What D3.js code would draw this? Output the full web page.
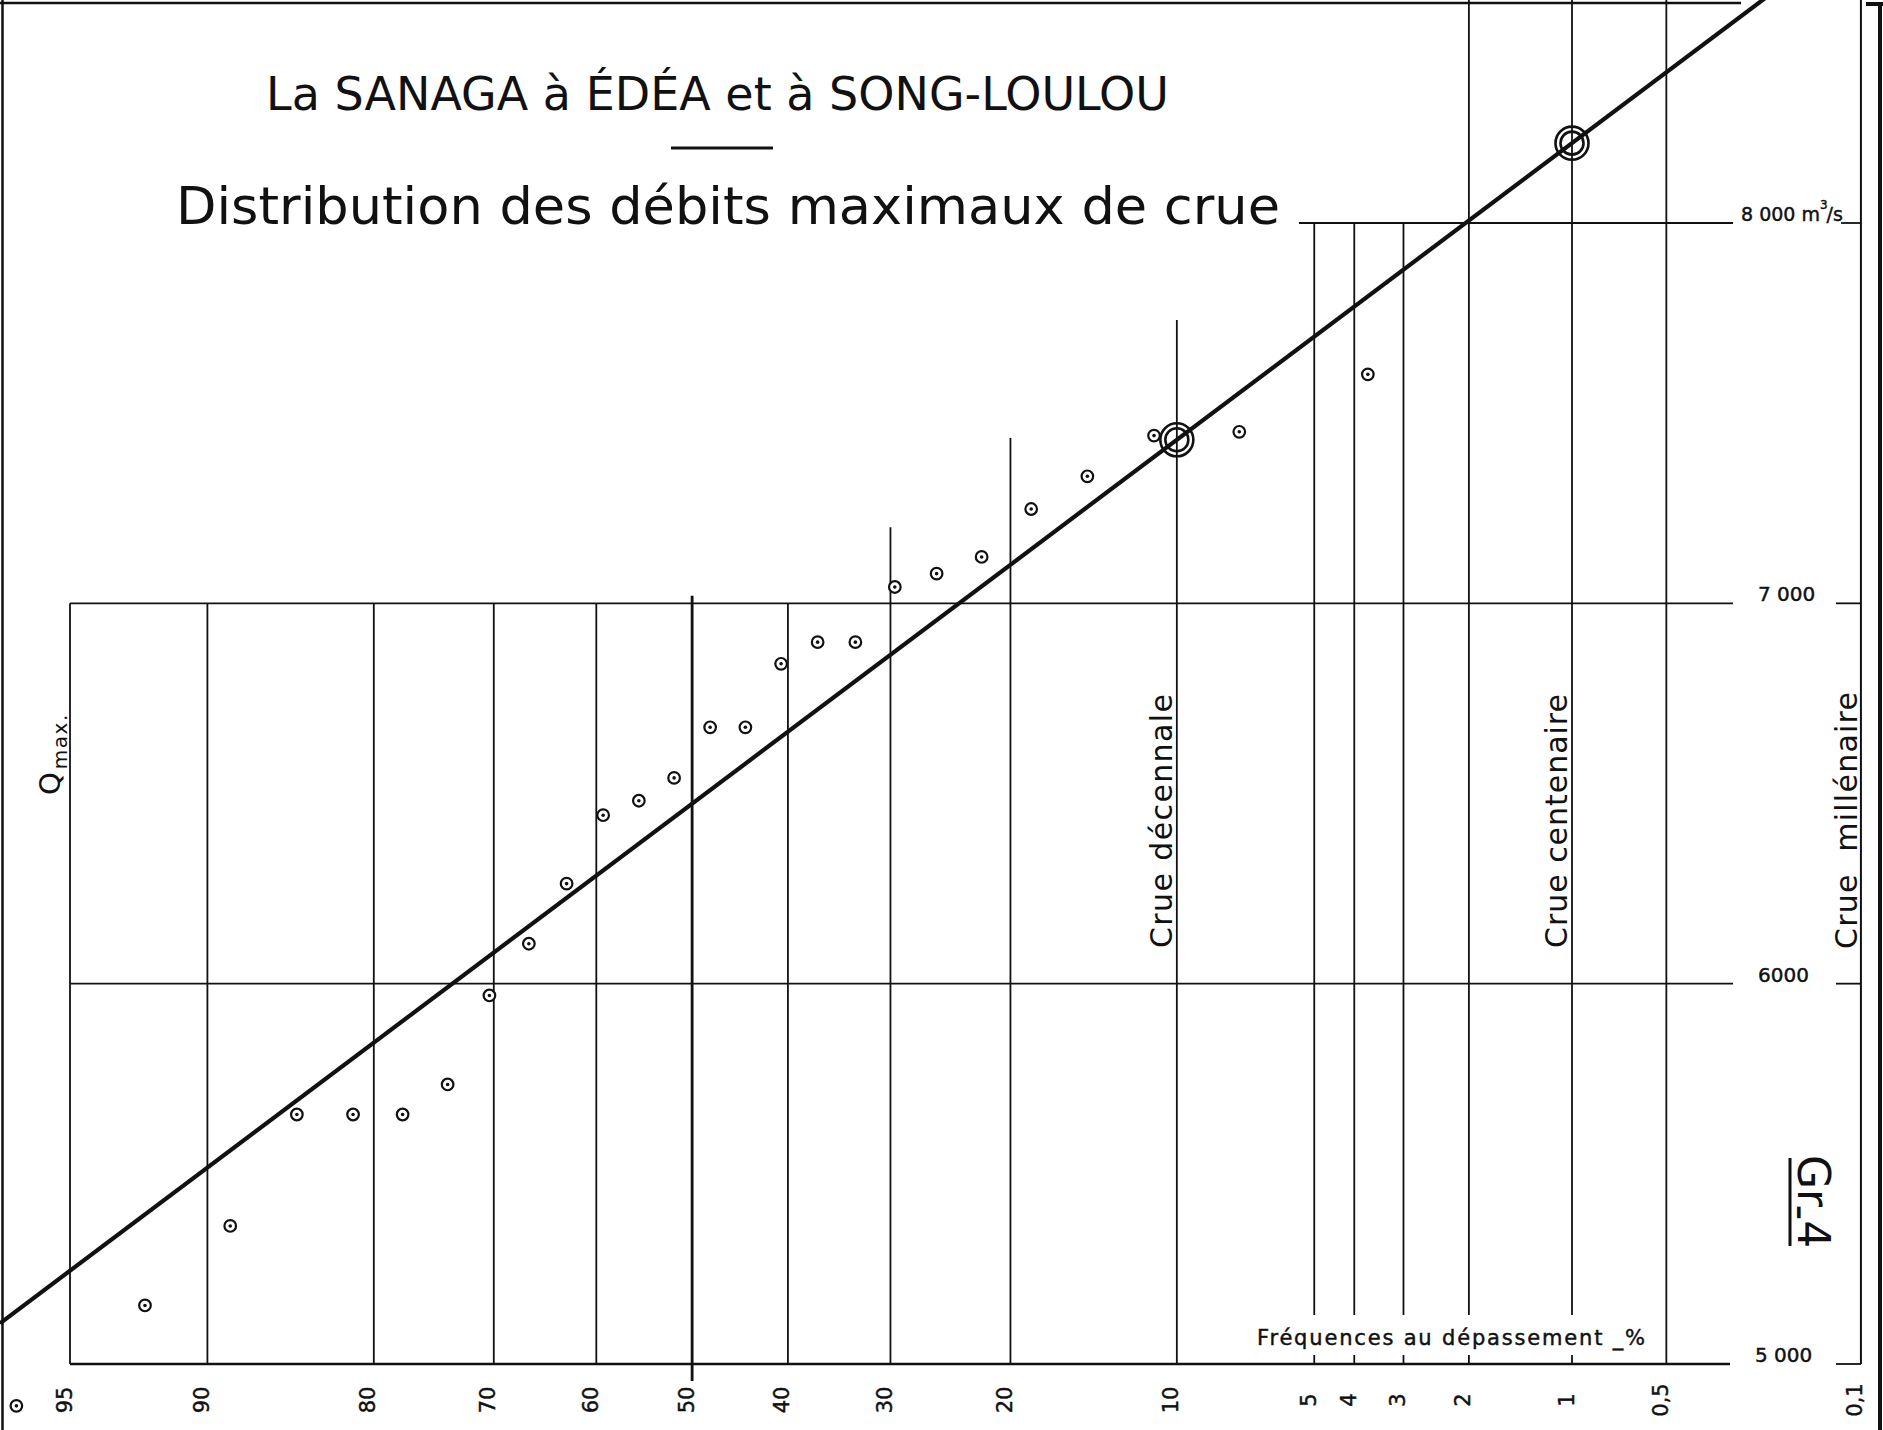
<!DOCTYPE html>
<html>
<head>
<meta charset="utf-8">
<title>La Sanaga à Édéa et à Song-Loulou</title>
<script src="https://cdn.jsdelivr.net/npm/d3@7"></script>
<style>
  html, body { margin: 0; padding: 0; background: #fff; }
  svg { display: block; }
  text { font-family: "DejaVu Sans", "Noto Sans", sans-serif; fill: #111; }
  .lettering { stroke: #111; stroke-width: 0.45px; }
  .keep-space { white-space: pre; }
</style>
</head>
<body>
<svg id="chart" width="1883" height="1430"></svg>
<script>
// ---- Data -----------------------------------------------------------------
// Annual maximum discharges (m3/s), ranked, with their exceedance frequency (%)
const exceedanceFreq = [3.7, 7.4, 11.1, 14.8, 18.5, 22.2, 25.9, 29.6, 33.3, 37.0,
                        40.7, 44.4, 48.1, 51.9, 55.6, 59.3, 63.0, 66.7, 70.4, 74.1,
                        77.8, 81.5, 85.2, 88.9, 92.6, 96.3];
const peakFlow = [7602, 7451, 7441, 7334, 7248, 7122, 7078, 7043, 6898, 6898,
                  6841, 6674, 6674, 6541, 6481, 6443, 6263, 6105, 5969, 5735,
                  5656, 5656, 5656, 5363, 5154, 4890];

// Fitted Gauss law: decennial and centennial floods
const designFreq = [10, 1];
const designFlow = [7430, 8210];
const designLabels = ["Crue décennale", "Crue centenaire"];
const millenialFreq = 0.1;
const millenialLabel = "Crue  millénaire";

// Frequency axis ticks
const freqTicks = [95, 90, 80, 70, 60, 50, 40, 30, 20, 10, 5, 4, 3, 2, 1, 0.5, 0.1];
const freqTickLabels = ["95", "90", "80", "70", "60", "50", "40", "30", "20", "10",
                        "5", "4", "3", "2", "1", "0,5", "0,1"];

// Discharge axis ticks
const flowTicks = [5000, 6000, 7000, 8000];
const flowTickLabels = ["5 000", "6000", "7 000", "8 000"];

// ---- Inverse normal distribution (Acklam) ----------------------------------
function probit(p) {
  const a = [-3.969683028665376e+01, 2.209460984245205e+02, -2.759285104469687e+02,
              1.383577518672690e+02, -3.066479806614716e+01, 2.506628277459239e+00];
  const b = [-5.447609879822406e+01, 1.615858368580409e+02, -1.556989798598866e+02,
              6.680131188771972e+01, -1.328068155288572e+01];
  const c = [-7.784894002430293e-03, -3.223964580411365e-01, -2.400758277161838e+00,
             -2.549732539343734e+00, 4.374664141464968e+00, 2.938163982698783e+00];
  const d = [7.784695709041462e-03, 3.224671290700398e-01, 2.445134137142996e+00,
             3.754408661907416e+00];
  const pl = 0.02425, ph = 1 - pl;
  let q, r;
  if (p < pl) {
    q = Math.sqrt(-2 * Math.log(p));
    return (((((c[0]*q+c[1])*q+c[2])*q+c[3])*q+c[4])*q+c[5]) /
           ((((d[0]*q+d[1])*q+d[2])*q+d[3])*q+1);
  }
  if (p <= ph) {
    q = p - 0.5; r = q * q;
    return (((((a[0]*r+a[1])*r+a[2])*r+a[3])*r+a[4])*r+a[5])*q /
           (((((b[0]*r+b[1])*r+b[2])*r+b[3])*r+b[4])*r+1);
  }
  q = Math.sqrt(-2 * Math.log(1 - p));
  return -(((((c[0]*q+c[1])*q+c[2])*q+c[3])*q+c[4])*q+c[5]) /
          ((((d[0]*q+d[1])*q+d[2])*q+d[3])*q+1);
}

// ---- Scales ---------------------------------------------------------------
const W = 1883, H = 1430;
const zScale = d3.scaleLinear().domain([probit(0.05), probit(0.99)]).range([70, 1572]);
// Gauss probability scale on exceedance frequency (%)
function x(f) { return zScale(probit(1 - f / 100)); }
x.domain = () => [95, 0.1];
x.range = () => [x(95), x(0.1)];
x.copy = () => x;

const y = d3.scaleLinear().domain([5000, 8000]).range([1364, 223]);
const baseY = y(5000);

const svg = d3.select("#chart");
svg.append("rect").attr("width", W).attr("height", H).attr("fill", "#fff");
const ink = "#111";

// ---- Frame ----------------------------------------------------------------
const frame = svg.append("g").attr("stroke", ink).attr("fill", "none");
frame.append("line").attr("x1", 2.5).attr("x2", 2.5).attr("y1", 0).attr("y2", H).attr("stroke-width", 2.5);
frame.append("line").attr("x1", 0).attr("x2", 1741).attr("y1", 3).attr("y2", 3).attr("stroke-width", 2.5);
frame.append("line").attr("x1", 1880).attr("x2", 1880).attr("y1", 3).attr("y2", H).attr("stroke-width", 4);
frame.append("line").attr("x1", 1866).attr("x2", W).attr("y1", 4).attr("y2", 4).attr("stroke-width", 4);

// ---- Vertical frequency lines ---------------------------------------------
// Upper end of each line, expressed in discharge (null: up to the top edge)
const lineTop = {95: 7000, 90: 7000, 80: 7000, 70: 7000, 60: 7000, 50: 7020, 40: 7000,
                 30: 7200, 20: 7435, 10: 7745, 5: 8000, 4: 8000, 3: 8000,
                 2: null, 1: null, 0.5: null, 0.1: null};
const brokenByLegend = new Set([5, 4, 3, 2, 1]);
const legendGapTop = 1315, legendGapBottom = 1355;

const vgrid = svg.append("g").attr("stroke", ink).attr("fill", "none");
freqTicks.forEach(f => {
  const xf = x(f);
  const top = lineTop[f] === null ? 0 : y(lineTop[f]);
  const bottom = f === 50 ? baseY + 17 : baseY;
  const sw = f === 50 ? 2.8 : (f === 0.1 ? 2 : 1.8);
  if (brokenByLegend.has(f)) {
    vgrid.append("line").attr("x1", xf).attr("x2", xf).attr("y1", top).attr("y2", legendGapTop).attr("stroke-width", sw);
    vgrid.append("line").attr("x1", xf).attr("x2", xf).attr("y1", legendGapBottom).attr("y2", bottom).attr("stroke-width", sw);
  } else {
    vgrid.append("line").attr("x1", xf).attr("x2", xf).attr("y1", top).attr("y2", bottom).attr("stroke-width", sw);
  }
});

// ---- Horizontal discharge lines -------------------------------------------
const hgrid = svg.append("g").attr("stroke", ink).attr("fill", "none");
flowTicks.forEach(v => {
  const x0 = v === 8000 ? 1299 : x(95);
  const x1 = v === 5000 ? 1730 : 1733;
  hgrid.append("line").attr("x1", x0).attr("x2", x1).attr("y1", y(v)).attr("y2", y(v))
    .attr("stroke-width", v === 5000 ? 2.6 : 1.8);
  hgrid.append("line").attr("x1", v === 8000 ? 1841 : 1836).attr("x2", x(0.1)).attr("y1", y(v)).attr("y2", y(v))
    .attr("stroke-width", 1.8);
});

// Discharge labels
const flowLab = svg.append("g").attr("font-size", 20).attr("class", "lettering");
flowTicks.forEach((v, i) => {
  const t = flowLab.append("text")
    .attr("x", v === 8000 ? 1741 : (v === 5000 ? 1755 : 1758))
    .attr("y", y(v) - 2);
  if (v === 8000) {
    t.attr("font-size", 19);
    t.append("tspan").text(flowTickLabels[i] + " m");
    t.append("tspan").attr("font-size", 12).attr("dy", -12).text("3");
    t.append("tspan").attr("dx", -1).attr("dy", 12).text("/s");
  } else {
    t.text(flowTickLabels[i]);
  }
});

// ---- Frequency axis labels ------------------------------------------------
const axisG = svg.append("g").attr("transform", `translate(0,${baseY})`)
  .call(d3.axisBottom(x).tickValues(freqTicks).tickSize(0)
        .tickFormat((d, i) => freqTickLabels[i]));
axisG.select(".domain").remove();
axisG.attr("font-size", 21).attr("font-family", null);
axisG.selectAll("text")
  .attr("class", "lettering")
  .attr("fill", ink)
  .attr("x", null).attr("y", null).attr("dy", null)
  .attr("text-anchor", "middle")
  .attr("transform", "translate(1,36) rotate(-90)");

// Frequency legend
svg.append("text")
  .attr("class", "lettering")
  .attr("x", 1257).attr("y", 1345)
  .attr("font-size", 21)
  .attr("textLength", 388).attr("lengthAdjust", "spacing")
  .text("Fréquences au dépassement _%");

// ---- Fitted line ----------------------------------------------------------
const zA = probit(1 - designFreq[0] / 100), zB = probit(1 - designFreq[1] / 100);
const slope = (designFlow[1] - designFlow[0]) / (zB - zA);
const lawFlow = z => designFlow[0] + (z - zA) * slope;
const zEnds = [zScale.invert(0), zScale.invert(W)];

svg.append("clipPath").attr("id", "plotClip")
  .append("rect").attr("x", 0).attr("y", 0).attr("width", W).attr("height", baseY);

svg.append("path")
  .datum(zEnds)
  .attr("clip-path", "url(#plotClip)")
  .attr("fill", "none").attr("stroke", ink).attr("stroke-width", 4.2)
  .attr("d", d3.line().x(z => zScale(z)).y(z => y(lawFlow(z))));

// Design floods (double circles)
const design = svg.append("g").attr("fill", "none").attr("stroke", ink).attr("stroke-width", 2.6);
designFreq.forEach((f, i) => {
  design.append("circle").attr("cx", x(f)).attr("cy", y(designFlow[i])).attr("r", 16.5);
  design.append("circle").attr("cx", x(f)).attr("cy", y(designFlow[i])).attr("r", 11.5);
});

// ---- Observed peaks -------------------------------------------------------
const pts = svg.append("g").selectAll("g").data(exceedanceFreq).join("g")
  .attr("transform", (f, i) => `translate(${x(f)},${y(peakFlow[i])})`);
pts.append("circle").attr("r", 5.8).attr("fill", "#fff").attr("stroke", ink).attr("stroke-width", 2.2);
pts.append("circle").attr("r", 1.8).attr("fill", ink);

// ---- Vertical labels ------------------------------------------------------
const vlab = svg.append("g").attr("font-size", 30);
designFreq.forEach((f, i) => {
  vlab.append("text")
    .attr("transform", `translate(${x(f) - 5},948) rotate(-90)`)
    .attr("textLength", 254).attr("lengthAdjust", "spacing")
    .text(designLabels[i]);
});
vlab.append("text")
  .attr("class", "keep-space")
  .attr("transform", `translate(${x(millenialFreq) - 4},949) rotate(-90)`)
  .attr("textLength", 257).attr("lengthAdjust", "spacing")
  .text(millenialLabel);

// Q max.
const qLab = svg.append("text").attr("transform", "translate(60,795) rotate(-90)");
qLab.append("tspan").attr("font-size", 29).text("Q");
qLab.append("tspan").attr("font-size", 20).attr("dx", 3).attr("dy", 7)
  .attr("letter-spacing", 1.5).text("max.");

// Plate reference
const plate = svg.append("text")
  .attr("transform", "translate(1798,1155) rotate(90)")
  .attr("font-size", 44);
plate.append("tspan").text("Gr");
plate.append("tspan").attr("dy", 11).text("-");
plate.append("tspan").attr("dy", -11).text("4");
svg.append("line").attr("x1", 1790).attr("x2", 1790).attr("y1", 1158).attr("y2", 1246)
  .attr("stroke", ink).attr("stroke-width", 3);

// ---- Titles ---------------------------------------------------------------
svg.append("text")
  .attr("x", 266).attr("y", 110)
  .attr("font-size", 47)
  .attr("textLength", 903).attr("lengthAdjust", "spacingAndGlyphs")
  .text("La SANAGA à ÉDÉA et à SONG-LOULOU");
svg.append("line").attr("x1", 671).attr("x2", 773).attr("y1", 148).attr("y2", 148)
  .attr("stroke", ink).attr("stroke-width", 3);
svg.append("text")
  .attr("x", 176).attr("y", 224)
  .attr("font-size", 52)
  .attr("textLength", 1104).attr("lengthAdjust", "spacingAndGlyphs")
  .text("Distribution des débits maximaux de crue");
</script>
</body>
</html>
